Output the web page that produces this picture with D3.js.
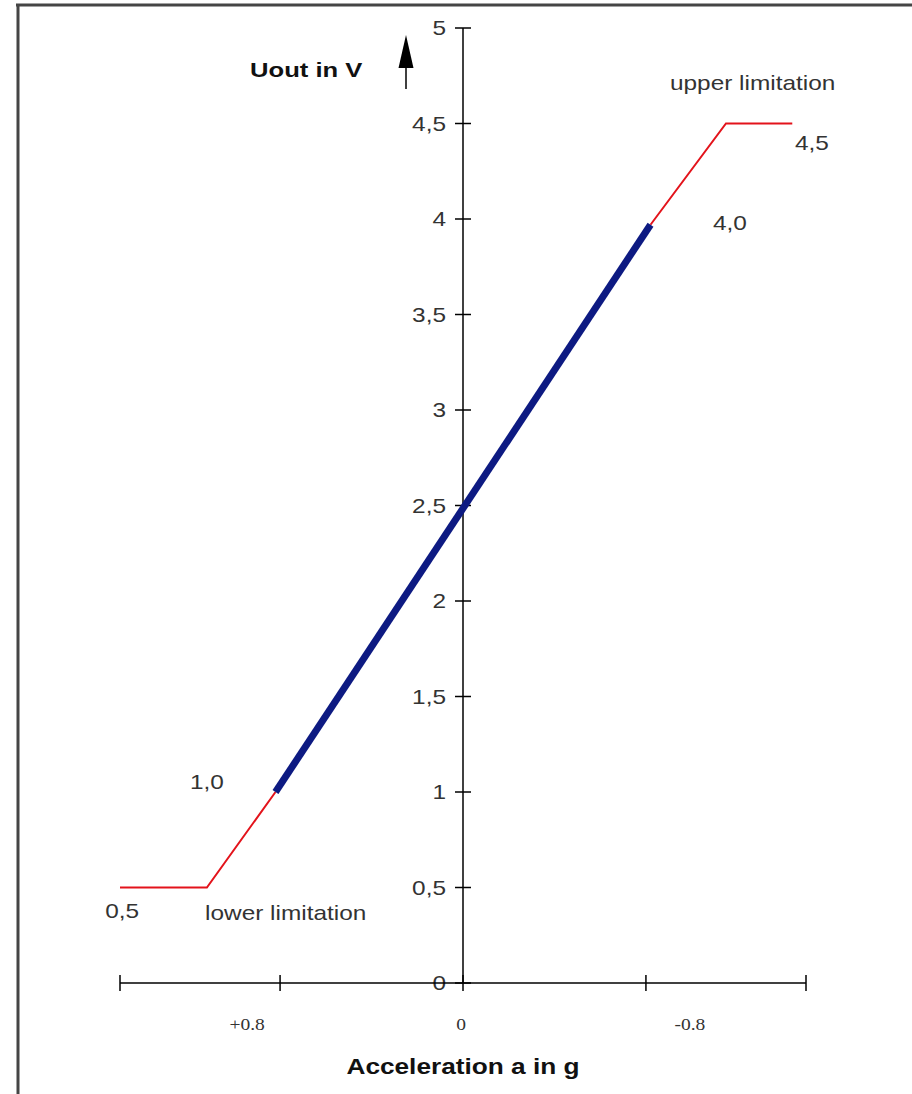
<!DOCTYPE html>
<html>
<head>
<meta charset="utf-8">
<script src="https://cdn.jsdelivr.net/npm/d3@7"></script>
<style>
  html, body { margin: 0; padding: 0; background: #fff; }
  svg { display: block; }
</style>
</head>
<body>
<svg id="chart" width="912" height="1094"></svg>
<script>
// ---- data ----
const yTickValues = [0, 0.5, 1, 1.5, 2, 2.5, 3, 3.5, 4, 4.5, 5];
const yTickLabels = ["0", "0,5", "1", "1,5", "2", "2,5", "3", "3,5", "4", "4,5", "5"];
const xTickValues = [1.5, 0.8, 0, -0.8, -1.5];
const xLabelValues = [0.8, 0, -0.8];
const xLabelTexts = ["+0.8", "0", "-0.8"];
const lowerLimit = [[1.5, 0.5], [1.12, 0.5], [0.82, 1.0]];
const linearRange = [[0.82, 1.0], [-0.82, 3.97]];
const upperLimit = [[-0.82, 3.97], [-1.15, 4.5], [-1.44, 4.5]];
const annoTexts = ["upper limitation", "4,5", "4,0", "1,0", "0,5", "lower limitation"];
const annoX = [-0.905, -1.452, -1.093, 1.194, 1.565, 1.128];
const annoY = [4.71, 4.40, 3.98, 1.05, 0.377, 0.366];

// ---- layout ----
const svg = d3.select("#chart");
const x = d3.scaleLinear().domain([1.5, -1.5]).range([120, 806]);
const y = d3.scaleLinear().domain([0, 5]).range([983, 28]);
const SX = 1.22; // horizontal text stretch of the original picture
const sans = "'Liberation Sans', Arial, sans-serif";
const serif = "'Liberation Serif', 'Times New Roman', serif";

function stretched(sel, px, py) {
  return sel.attr("transform", `translate(${px},${py}) scale(${SX},1)`);
}

// frame (top and left only)
svg.append("line").attr("x1", 16).attr("x2", 912).attr("y1", 5).attr("y2", 5)
  .attr("stroke", "#454545").attr("stroke-width", 3);
svg.append("line").attr("x1", 18).attr("x2", 18).attr("y1", 4).attr("y2", 1094)
  .attr("stroke", "#454545").attr("stroke-width", 3);

// y axis
const yAxis = svg.append("g");
yAxis.append("line").attr("x1", x(0)).attr("x2", x(0))
  .attr("y1", y(5)).attr("y2", y(0)).attr("stroke", "#000").attr("stroke-width", 1.5);
yAxis.selectAll("line.t").data(yTickValues).join("line").attr("class", "t")
  .attr("x1", x(0) - 8).attr("x2", x(0) + 8)
  .attr("y1", d => y(d)).attr("y2", d => y(d))
  .attr("stroke", "#000").attr("stroke-width", 1.5);
yAxis.selectAll("text").data(yTickValues).join("text")
  .each(function(d) { stretched(d3.select(this), x(0) - 17, y(d)); })
  .attr("text-anchor", "end").attr("dy", "0.35em")
  .attr("font-family", sans).attr("font-size", 20).attr("fill", "#333")
  .text((d, i) => yTickLabels[i]);

// x axis
const xAxis = svg.append("g");
xAxis.append("line").attr("x1", x(1.5)).attr("x2", x(-1.5))
  .attr("y1", y(0)).attr("y2", y(0)).attr("stroke", "#000").attr("stroke-width", 1.5);
xAxis.selectAll("line.t").data(xTickValues).join("line").attr("class", "t")
  .attr("x1", d => x(d)).attr("x2", d => x(d))
  .attr("y1", y(0) - 8).attr("y2", y(0) + 8)
  .attr("stroke", "#000").attr("stroke-width", 1.5);
const labelShift = [-33, -2, 44];
xAxis.selectAll("text").data(xLabelValues).join("text")
  .each(function(d, i) { stretched(d3.select(this), x(d) + labelShift[i], y(0) + 47); })
  .attr("text-anchor", "middle")
  .attr("font-family", serif).attr("font-size", 16).attr("fill", "#333")
  .text((d, i) => xLabelTexts[i]);

// axis titles
stretched(svg.append("text"), x(0), 1074)
  .attr("text-anchor", "middle").attr("font-family", sans).attr("font-weight", "bold")
  .attr("font-size", 21.5).attr("fill", "#111").text("Acceleration a in g");
stretched(svg.append("text"), 250, 77)
  .attr("text-anchor", "start").attr("font-family", sans).attr("font-weight", "bold")
  .attr("font-size", 21).attr("fill", "#111").text("Uout in V");

// arrow
svg.append("line").attr("x1", 406).attr("x2", 406).attr("y1", 60).attr("y2", 89)
  .attr("stroke", "#000").attr("stroke-width", 1.5);
svg.append("path").attr("d", "M406,35 L413.5,68 L398.5,68 Z").attr("fill", "#000");

// curves
const line = d3.line().x(d => x(d[0])).y(d => y(d[1]));
svg.append("path").datum(lowerLimit).attr("d", line)
  .attr("fill", "none").attr("stroke", "#e3131b").attr("stroke-width", 2);
svg.append("path").datum(upperLimit).attr("d", line)
  .attr("fill", "none").attr("stroke", "#e3131b").attr("stroke-width", 2);
svg.append("path").datum(linearRange).attr("d", line)
  .attr("fill", "none").attr("stroke", "#0d1a82").attr("stroke-width", 7);

// annotations
svg.append("g").selectAll("text").data(annoTexts).join("text")
  .each(function(d, i) { stretched(d3.select(this), x(annoX[i]), y(annoY[i])); })
  .attr("dy", "0.35em").attr("text-anchor", "start")
  .attr("font-family", sans).attr("font-size", 20).attr("fill", "#333")
  .text(d => d);
</script>
</body>
</html>
